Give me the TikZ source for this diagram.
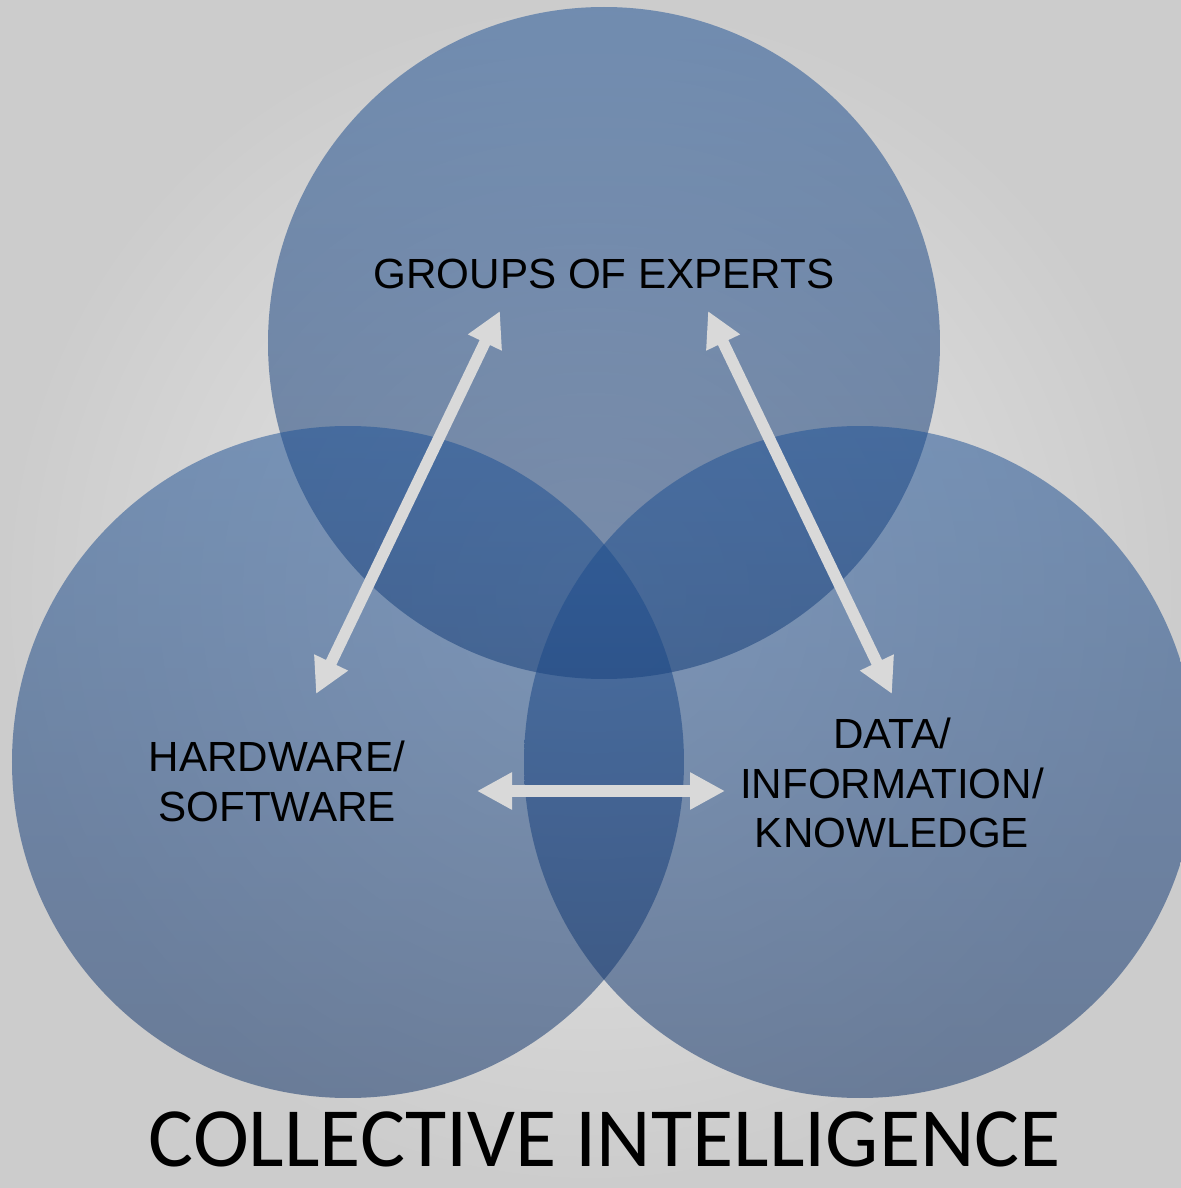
\documentclass[tikz,border=0pt]{standalone}
\usepackage{fontspec}
\setmainfont{Liberation Sans}
\newfontfamily\titlefont{Carlito}
\usetikzlibrary{arrows.meta}

\definecolor{venntop}{RGB}{30,82,150}
\definecolor{vennlow}{RGB}{16,50,104}
\definecolor{linkgray}{RGB}{217,217,217}
\definecolor{paper}{RGB}{204,204,204}
\definecolor{paperlight}{RGB}{232,232,232}

\tikzset{
  vennset/.style={top color=venntop, bottom color=vennlow, fill opacity=0.52},
  link/.style={{Triangle[length=3.5mm,width=3.5mm]}-{Triangle[length=3.5mm,width=3.5mm]},
    line width=1.15mm, draw=linkgray},
}

\begin{document}
\begin{tikzpicture}[every node/.style={font=\fontsize{12}{14}\selectfont, align=center}]

% Background
\shade[inner color=paperlight, outer color=paper] (0,0) rectangle (11.81,11.88);
\useasboundingbox (0,0) rectangle (11.81,11.88);

% The three sets
\path[vennset] (6.04,8.45) circle (3.36);
\path[vennset] (3.48,4.26) circle (3.36);
\path[vennset] (8.60,4.26) circle (3.36);

% Set labels
\node (experts) at (6.04,9.14) {GROUPS OF EXPERTS};
\node (tools) at (2.77,4.065) {HARDWARE/\\SOFTWARE};
\node (data) at (8.92,4.05) {DATA/\\INFORMATION/\\KNOWLEDGE};

% Arrow ends
\coordinate (e1) at (5.00,8.77);
\coordinate (t1) at (3.16,4.94);
\coordinate (e2) at (7.08,8.77);
\coordinate (d2) at (8.92,4.94);
\coordinate (t3) at (4.77,3.97);
\coordinate (d3) at (7.25,3.97);

% Links between the sets
\draw[link] (e1) -- (t1);
\draw[link] (e2) -- (d2);
\draw[link] (t3) -- (d3);

% Caption
\node[font=\titlefont\fontsize{24}{28}\selectfont, anchor=base, inner sep=0pt] (title) at (6.05,0.22) {COLLECTIVE INTELLIGENCE};

\end{tikzpicture}
\end{document}
